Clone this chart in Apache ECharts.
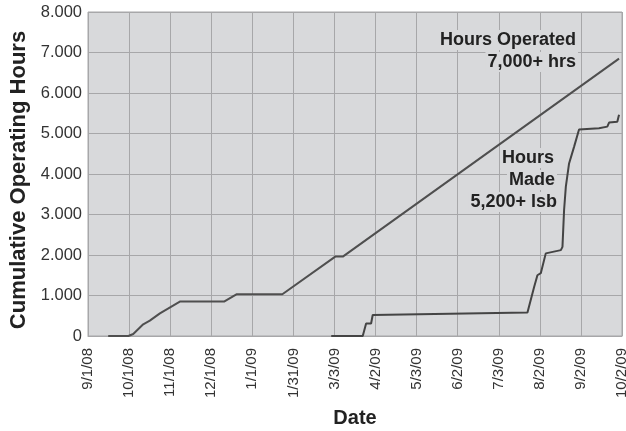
<!DOCTYPE html>
<html>
<head>
<meta charset="utf-8">
<script src="https://cdn.jsdelivr.net/npm/echarts@6/dist/echarts.min.js"></script>
<style>
html,body{margin:0;padding:0;background:#fff;}
#chart{width:626px;height:431px;}
</style>
</head>
<body>
<div id="chart"></div>
<script>
// x values are days since 9/1/08
var tickLabels = ['9/1/08','10/1/08','11/1/08','12/1/08','1/1/09','1/31/09','3/3/09','4/2/09','5/3/09','6/2/09','7/3/09','8/2/09','9/2/09','10/2/09'];
var yTicks = ['0','1.000','2.000','3.000','4.000','5.000','6.000','7.000','8.000'];

var operatedDays   = [15, 30, 33.6, 41, 45.9, 53.4, 68.2, 101, 110.2, 144.3, 183.6, 189.2, 394.3];
var operatedValues = [0, 0, 50, 290, 380, 560, 850, 850, 1030, 1030, 1960, 1960, 6850];

var madeDays   = [180.6, 204, 206.5, 210.2, 211.4, 212.7, 326.3, 331.3, 333.7, 336.2, 339.9, 341.1, 351.1, 352.3, 353.5, 354.8, 357.2, 360.9, 364.6, 379.4, 385.6, 386.9, 393, 394.3];
var madeValues = [0, 0, 310, 310, 520, 560, 580, 1217, 1500, 1550, 2040, 2080, 2120, 2200, 3110, 3690, 4260, 4670, 5100, 5130, 5170, 5270, 5290, 5460];

var annotationLines = ['Hours Operated', '7,000+ hrs', 'Hours', 'Made', '5,200+ lsb'];

function pairs(xs, ys){ return xs.map(function(x,i){ return [x, ys[i]]; }); }

var FONT = '"Liberation Sans", Arial, sans-serif';
var BG = '#d8d9db';
var GRID = '#a7a7a9';
var TICK_STEP = 30.5;

var annoPos = [[578, 40], [578, 62], [556, 158], [557, 180], [559, 202]];
var graphics = annotationLines.map(function(t, i){
  return {type: 'text', x: annoPos[i][0], y: annoPos[i][1], z: 100,
    style: {text: t, align: 'right', verticalAlign: 'middle', font: 'bold 18px ' + FONT, fill: '#222',
            backgroundColor: BG, padding: [1, 2]}};
});

var chart = echarts.init(document.getElementById('chart'));
chart.setOption({
  animation: false,
  textStyle: {fontFamily: FONT},
  grid: {left: 88, right: 4, top: 12, bottom: 95, show: true, backgroundColor: BG, borderColor: GRID, borderWidth: 1,
         containLabel: false, outerBoundsMode: 'none'},
  xAxis: {
    type: 'value', min: 0, max: TICK_STEP * (tickLabels.length - 1), interval: TICK_STEP,
    name: 'Date', nameLocation: 'middle', nameGap: 72,
    nameTextStyle: {fontFamily: FONT, fontWeight: 'bold', fontSize: 20, color: '#222'},
    axisLine: {lineStyle: {color: GRID}},
    axisTick: {show: false},
    splitLine: {show: true, lineStyle: {color: GRID, width: 1}},
    axisLabel: {
      rotate: 90, margin: 12, fontSize: 15, color: '#333', fontFamily: FONT,
      formatter: function(v){ return tickLabels[Math.round(v / TICK_STEP)] || ''; }
    }
  },
  yAxis: {
    type: 'value', min: 0, max: 8000, interval: 1000,
    name: 'Cumulative Operating Hours', nameLocation: 'middle', nameGap: 56,
    nameTextStyle: {fontFamily: FONT, fontWeight: 'bold', fontSize: 22, color: '#222', padding: [0, 12, 0, 0]},
    axisLine: {show: false},
    axisTick: {show: false},
    splitLine: {show: true, lineStyle: {color: GRID, width: 1}},
    axisLabel: {
      margin: 6, fontSize: 16.5, color: '#333', fontFamily: FONT,
      formatter: function(v){ return yTicks[Math.round(v / 1000)]; }
    }
  },
  series: [
    {name: 'Hours Operated', type: 'line', data: pairs(operatedDays, operatedValues), showSymbol: false,
     lineStyle: {color: '#4f4f4f', width: 2}},
    {name: 'Hours Made', type: 'line', data: pairs(madeDays, madeValues), showSymbol: false,
     lineStyle: {color: '#444444', width: 2}}
  ],
  graphic: graphics
});
</script>
</body>
</html>
